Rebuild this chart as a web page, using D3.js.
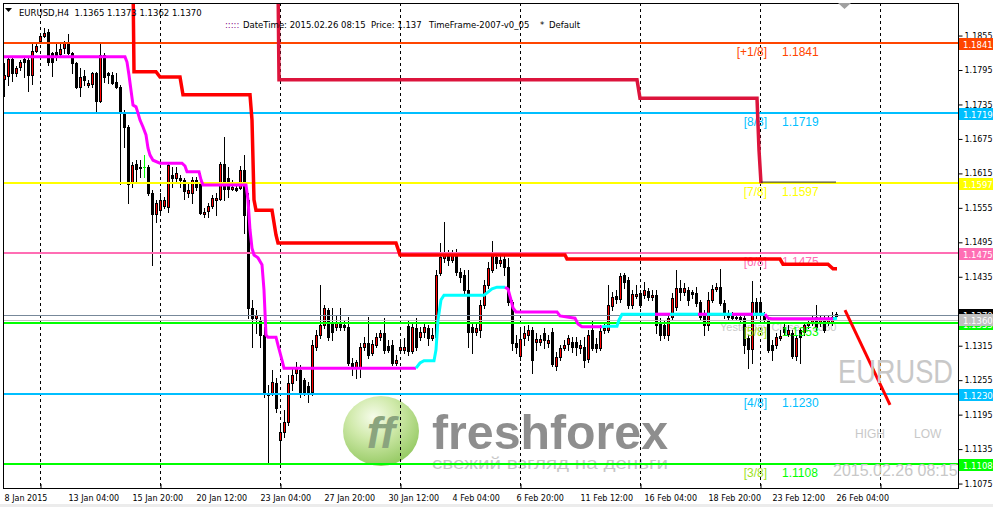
<!DOCTYPE html>
<html>
<head>
<meta charset="utf-8">
<script src="https://cdnjs.cloudflare.com/ajax/libs/d3/7.8.5/d3.min.js"></script>
<style>
body { margin: 0; background: #fff; }
svg { display: block; }
</style>
</head>
<body>
<div id="chart"></div>
<script>
"use strict";
var w = 993;
var h = 507;
var plotL = 3, plotR = 958, plotT = 3, plotB = 488;

// EURUSD H4 candles, [open, high, low, close], oldest first
var candles = [
 [1.1778,1.1806,1.1749,1.1785],[1.1784,1.1815,1.1768,1.1813],[1.1813,1.1815,1.1775,1.1789],[1.1789,1.1801,1.1784,1.1798],
 [1.1799,1.1812,1.1794,1.1808],[1.1813,1.1817,1.1782,1.1808],[1.1812,1.1815,1.1758,1.1785],[1.1785,1.1841,1.1770,1.1827],
 [1.1827,1.1841,1.1825,1.1836],[1.1845,1.1859,1.1841,1.1853],[1.1853,1.1867,1.1852,1.1859],[1.1860,1.1866,1.1803,1.1808],
 [1.1824,1.1825,1.1784,1.1808],[1.1825,1.1841,1.1812,1.1819],[1.1822,1.1841,1.1817,1.1831],[1.1832,1.1845,1.1824,1.1841],
 [1.1841,1.1857,1.1822,1.1824],[1.1824,1.1825,1.1789,1.1806],[1.1806,1.1808,1.1763,1.1765],[1.1765,1.1798,1.1749,1.1782],
 [1.1784,1.1794,1.1768,1.1777],[1.1768,1.1777,1.1765,1.1771],[1.1770,1.1791,1.1765,1.1789],[1.1789,1.1791,1.1723,1.1740],
 [1.1740,1.1841,1.1738,1.1820],[1.1820,1.1824,1.1773,1.1782],[1.1789,1.1791,1.1771,1.1785],[1.1785,1.1791,1.1770,1.1771],
 [1.1773,1.1789,1.1763,1.1765],[1.1765,1.1768,1.1596,1.1719],[1.1719,1.1724,1.1660,1.1695],[1.1695,1.1698,1.1563,1.1596],
 [1.1597,1.1634,1.1590,1.1629],[1.1630,1.1637,1.1597,1.1622],[1.1625,1.1637,1.1608,1.1624],[1.1625,1.1646,1.1608,1.1625],
 [1.1625,1.1629,1.1577,1.1580],[1.1580,1.1585,1.1455,1.1543],[1.1543,1.1568,1.1529,1.1563],[1.1550,1.1580,1.1547,1.1568],
 [1.1557,1.1573,1.1554,1.1568],[1.1556,1.1632,1.1547,1.1629],[1.1611,1.1625,1.1590,1.1606],[1.1606,1.1625,1.1597,1.1615],
 [1.1606,1.1611,1.1590,1.1603],[1.1603,1.1606,1.1570,1.1583],[1.1580,1.1597,1.1573,1.1585],[1.1580,1.1608,1.1563,1.1603],
 [1.1603,1.1608,1.1585,1.1590],[1.1596,1.1615,1.1543,1.1545],[1.1543,1.1554,1.1538,1.1547],[1.1549,1.1563,1.1538,1.1557],
 [1.1557,1.1577,1.1554,1.1571],[1.1568,1.1580,1.1542,1.1571],[1.1570,1.1634,1.1568,1.1630],[1.1630,1.1677,1.1568,1.1587],
 [1.1606,1.1625,1.1573,1.1587],[1.1587,1.1603,1.1585,1.1590],[1.1589,1.1597,1.1583,1.1585],[1.1589,1.1627,1.1587,1.1620],
 [1.1620,1.1646,1.1510,1.1542],[1.1568,1.1580,1.1362,1.1380],[1.1380,1.1394,1.1312,1.1362],[1.1362,1.1376,1.1336,1.1368],
 [1.1359,1.1364,1.1312,1.1333],[1.1333,1.1347,1.1225,1.1232],[1.1232,1.1246,1.1110,1.1228],[1.1232,1.1272,1.1228,1.1251],
 [1.1249,1.1258,1.1199,1.1206],[1.1150,1.1176,1.1103,1.1164],[1.1164,1.1202,1.1155,1.1181],[1.1181,1.1263,1.1176,1.1249],
 [1.1249,1.1275,1.1237,1.1263],[1.1267,1.1286,1.1254,1.1277],[1.1272,1.1281,1.1225,1.1234],[1.1254,1.1258,1.1228,1.1234],
 [1.1244,1.1251,1.1216,1.1234],[1.1234,1.1324,1.1228,1.1315],[1.1312,1.1341,1.1307,1.1333],[1.1333,1.1420,1.1328,1.1350],
 [1.1350,1.1385,1.1345,1.1380],[1.1376,1.1380,1.1324,1.1329],[1.1354,1.1380,1.1324,1.1338],[1.1347,1.1368,1.1341,1.1355],
 [1.1355,1.1380,1.1341,1.1347],[1.1350,1.1359,1.1341,1.1347],[1.1347,1.1364,1.1281,1.1284],[1.1284,1.1293,1.1263,1.1277],
 [1.1277,1.1289,1.1258,1.1286],[1.1275,1.1319,1.1260,1.1312],[1.1312,1.1329,1.1307,1.1319],[1.1319,1.1364,1.1293,1.1298],
 [1.1301,1.1324,1.1298,1.1317],[1.1315,1.1336,1.1312,1.1329],[1.1329,1.1341,1.1324,1.1336],[1.1336,1.1362,1.1301,1.1307],
 [1.1314,1.1324,1.1303,1.1307],[1.1315,1.1324,1.1281,1.1284],[1.1284,1.1298,1.1281,1.1289],[1.1307,1.1324,1.1303,1.1312],
 [1.1307,1.1328,1.1301,1.1312],[1.1348,1.1359,1.1298,1.1305],[1.1305,1.1354,1.1301,1.1347],[1.1345,1.1362,1.1307,1.1312],
 [1.1329,1.1347,1.1324,1.1338],[1.1338,1.1354,1.1329,1.1347],[1.1345,1.1350,1.1315,1.1328],[1.1328,1.1345,1.1324,1.1333],
 [1.1329,1.1446,1.1326,1.1437],[1.1441,1.1493,1.1437,1.1469],[1.1467,1.1529,1.1460,1.1476],[1.1476,1.1481,1.1455,1.1463],
 [1.1463,1.1481,1.1460,1.1472],[1.1472,1.1482,1.1437,1.1442],[1.1442,1.1449,1.1425,1.1434],[1.1437,1.1446,1.1406,1.1411],
 [1.1411,1.1446,1.1312,1.1338],[1.1347,1.1355,1.1301,1.1338],[1.1338,1.1355,1.1333,1.1345],[1.1341,1.1394,1.1329,1.1385],
 [1.1385,1.1429,1.1380,1.1420],[1.1420,1.1460,1.1415,1.1449],[1.1446,1.1496,1.1442,1.1476],[1.1469,1.1477,1.1449,1.1458],
 [1.1458,1.1472,1.1453,1.1463],[1.1465,1.1470,1.1437,1.1451],[1.1451,1.1467,1.1385,1.1390],[1.1390,1.1394,1.1307,1.1319],
 [1.1319,1.1333,1.1301,1.1312],[1.1296,1.1341,1.1289,1.1326],[1.1328,1.1348,1.1315,1.1336],[1.1333,1.1350,1.1324,1.1341],
 [1.1341,1.1347,1.1267,1.1289],[1.1321,1.1336,1.1307,1.1326],[1.1321,1.1333,1.1315,1.1326],[1.1336,1.1345,1.1310,1.1324],
 [1.1319,1.1333,1.1312,1.1324],[1.1338,1.1345,1.1279,1.1282],[1.1279,1.1303,1.1272,1.1294],[1.1294,1.1315,1.1289,1.1310],
 [1.1310,1.1324,1.1307,1.1315],[1.1317,1.1333,1.1307,1.1328],[1.1321,1.1329,1.1303,1.1312],[1.1321,1.1329,1.1298,1.1312],
 [1.1310,1.1324,1.1301,1.1315],[1.1312,1.1329,1.1277,1.1289],[1.1291,1.1341,1.1286,1.1333],[1.1341,1.1359,1.1307,1.1310],
 [1.1317,1.1328,1.1303,1.1310],[1.1310,1.1350,1.1307,1.1340],[1.1341,1.1355,1.1336,1.1345],[1.1341,1.1420,1.1338,1.1385],
 [1.1383,1.1408,1.1376,1.1399],[1.1401,1.1411,1.1388,1.1395],[1.1395,1.1441,1.1390,1.1435],[1.1437,1.1441,1.1415,1.1425],
 [1.1429,1.1434,1.1380,1.1385],[1.1385,1.1411,1.1380,1.1404],[1.1401,1.1420,1.1397,1.1404],[1.1406,1.1411,1.1382,1.1385],
 [1.1402,1.1425,1.1397,1.1411],[1.1409,1.1415,1.1394,1.1399],[1.1399,1.1411,1.1394,1.1402],[1.1402,1.1411,1.1336,1.1350],
 [1.1354,1.1362,1.1324,1.1333],[1.1350,1.1359,1.1328,1.1333],[1.1333,1.1368,1.1324,1.1362],[1.1364,1.1406,1.1359,1.1397],
 [1.1382,1.1446,1.1376,1.1415],[1.1415,1.1429,1.1394,1.1408],[1.1408,1.1423,1.1402,1.1415],[1.1411,1.1416,1.1385,1.1394],
 [1.1408,1.1411,1.1397,1.1404],[1.1406,1.1416,1.1383,1.1388],[1.1390,1.1394,1.1359,1.1364],[1.1368,1.1376,1.1333,1.1350],
 [1.1350,1.1408,1.1341,1.1394],[1.1394,1.1420,1.1390,1.1413],[1.1413,1.1423,1.1409,1.1416],[1.1416,1.1448,1.1385,1.1388],
 [1.1388,1.1394,1.1362,1.1373],[1.1368,1.1376,1.1359,1.1364],[1.1366,1.1373,1.1359,1.1362],[1.1362,1.1371,1.1359,1.1364],
 [1.1364,1.1371,1.1354,1.1359],[1.1362,1.1368,1.1301,1.1315],[1.1328,1.1333,1.1275,1.1308],[1.1308,1.1427,1.1284,1.1390],
 [1.1390,1.1397,1.1362,1.1373],[1.1390,1.1397,1.1359,1.1368],[1.1368,1.1373,1.1355,1.1359],[1.1359,1.1362,1.1303,1.1307],
 [1.1315,1.1324,1.1289,1.1307],[1.1315,1.1336,1.1310,1.1329],[1.1328,1.1341,1.1324,1.1331],[1.1347,1.1354,1.1333,1.1338],
 [1.1334,1.1350,1.1331,1.1341],[1.1336,1.1341,1.1293,1.1296],[1.1296,1.1333,1.1289,1.1328],[1.1341,1.1345,1.1284,1.1329],
 [1.1338,1.1355,1.1333,1.1350],[1.1350,1.1362,1.1345,1.1355],[1.1355,1.1368,1.1350,1.1359],[1.1364,1.1385,1.1341,1.1347],
 [1.1354,1.1368,1.1348,1.1362],[1.1359,1.1366,1.1338,1.1341],[1.1355,1.1368,1.1350,1.1362],[1.1355,1.1373,1.1350,1.1364],
 [1.1365,1.1373,1.1362,1.1370]
];

// time axis labels, one every 16 bars
var timeLabels = ["8 Jan 2015", "13 Jan 04:00", "15 Jan 20:00", "20 Jan 12:00", "23 Jan 04:00", "27 Jan 20:00",
  "30 Jan 12:00", "4 Feb 04:00", "6 Feb 20:00", "11 Feb 12:00", "16 Feb 04:00", "18 Feb 20:00",
  "23 Feb 12:00", "26 Feb 04:00"];
var gridBars = [9, 39, 69, 99, 129, 159, 189, 219];
var priceTicks = [1.1855, 1.1795, 1.1735, 1.1675, 1.1615, 1.1555, 1.1495, 1.1435, 1.1315,
  1.1255, 1.1195, 1.1135, 1.1075];

// Murrey math levels
var mmNames  = ["[+1/8]", "[8/8]", "[7/8]", "[6/8]", "[5/8]", "[4/8]", "[3/8]"];
var mmLevels = [1.1841, 1.1719, 1.1597, 1.1475, 1.1353, 1.1230, 1.1108];
var mmColors = ["#ff4500", "#00bfff", "#ffff00", "#ff6eb4", "#00ff00", "#00bfff", "#00ff00"];

var bidPrice = 1.1370;
var yesterdayClose = 1.1360;

// stepped stop lines [bar, price]
var redStop = [[32.25,1.1951],[32.5,1.1791],[38,1.1791],[39,1.1782],[44,1.1782],[44.75,1.1751],[61.5,1.1751],
  [62,1.1707],[62.5,1.1568],[63,1.1550],[67,1.1550],[68,1.1507],[68.5,1.1493],[98,1.1493],[99,1.1472],
  [140.25,1.1472],[140.75,1.1465],[194,1.1465],[194.75,1.1456],[206,1.1456],[207.25,1.1448],[208.25,1.1448]];
var crimsonStop = [[68.5,1.1951],[68.75,1.1777],[158.25,1.1777],[159,1.1745],[188.25,1.1745],[188.75,1.1655],[189.25,1.1597]];
var crimsonTail = [[189.25,1.1599],[208,1.1599]];

// trend line [bar, price, up] - up=1 draws aqua, 0 magenta
var trendLine = [[-0.25,1.1817,0],[30.25,1.1817,0],[30.75,1.1808,0],[31.25,1.1785,0],[31.75,1.1759,0],[32.25,1.1733,0],
  [33,1.1730,0],[33.5,1.1719,0],[34,1.1707,0],[34.75,1.1695,0],[35.5,1.1681,0],[36,1.1658,0],[36.5,1.1646,0],
  [37.25,1.1637,0],[39,1.1632,0],[44.5,1.1632,0],[45.25,1.1627,0],[45.75,1.1617,0],[48.75,1.1617,0],[49.25,1.1603,0],
  [49.75,1.1594,0],[60.5,1.1594,0],[61,1.1568,0],[61.5,1.1516,0],[62,1.1484,0],[62.5,1.1472,0],[63.5,1.1467,0],
  [64.5,1.1455,0],[65,1.1411,0],[65.5,1.1333,0],[66,1.1329,0],[68,1.1329,0],[68.5,1.1315,0],[69.5,1.1289,0],
  [70,1.1275,0],[103,1.1275,1],[104,1.1284,1],[105,1.1288,1],[107.5,1.1288,1],[108,1.1307,1],[108.5,1.1359,1],
  [109.25,1.1394,1],[110,1.1402,1],[120,1.1402,1],[120.75,1.1406,1],[122,1.1413,1],[123.25,1.1416,1],
  [125.25,1.1416,0],[126,1.1413,0],[126.75,1.1394,0],[127.25,1.1380,0],[128,1.1373,0],[138.25,1.1373,0],
  [139,1.1366,0],[142.75,1.1362,0],[143.5,1.1352,0],[144.5,1.1347,0],[149.5,1.1347,1],[150.5,1.1348,1],
  [153.25,1.1348,1],[153.75,1.1359,1],[154.5,1.1369,1],[162.75,1.1369,0],[166.5,1.1369,1],[173.5,1.1369,0],
  [175.75,1.1369,1],[182,1.1369,0],[187.25,1.1369,1],[190.25,1.1369,0],[191,1.1362,0],[192,1.1361,0],
  [207.25,1.1361,1],[208.25,1.1362,1]];

var projection = [[210.25, 1.1376], [221.5, 1.1211]];

function init() {
    draw();
}
window.onload = init;

function draw() {
    var x = d3.scaleLinear().domain([0, 238.5]).range([4, 958]);
    var y = d3.scaleLinear().domain([1.10664, 1.1916]).range([488, 0]);
    var px = function(i){ return Math.round(x(i)); };
    var py = function(p){ return Math.round(y(p)); };

    var svg = d3.select("#chart").append("svg")
        .attr("width", w).attr("height", h)
        .style("font-family", "'DejaVu Sans', Tahoma, sans-serif");

    var defs = svg.append("defs");
    defs.append("clipPath").attr("id", "plotClip")
        .append("rect").attr("x", plotL).attr("y", plotT)
        .attr("width", plotR - plotL).attr("height", plotB - plotT);
    var grad = defs.append("radialGradient").attr("id", "blob")
        .attr("cx", "40%").attr("cy", "30%").attr("r", "70%");
    grad.append("stop").attr("offset", "0%").attr("stop-color", "#f4fbe6");
    grad.append("stop").attr("offset", "45%").attr("stop-color", "#c8e69c");
    grad.append("stop").attr("offset", "100%").attr("stop-color", "#86c24c");

    svg.append("rect").attr("width", w).attr("height", h).attr("fill", "#fff");
    svg.append("rect").attr("x", 0).attr("y", 504).attr("width", w).attr("height", 3).attr("fill", "#ececec");

    var plot = svg.append("g").attr("clip-path", "url(#plotClip)");

    // watermark
    var wm = plot.append("g");
    wm.append("ellipse").attr("cx", 381).attr("cy", 431).attr("rx", 38).attr("ry", 35)
        .attr("fill", "url(#blob)").attr("opacity", 0.85);
    wm.append("text").attr("x", 381).attr("y", 448).attr("text-anchor", "middle")
        .style("font-family", "'Liberation Sans', Arial, sans-serif")
        .style("font-size", "44px").style("font-weight", "bold").style("font-style", "italic")
        .attr("fill", "#8aa47e").text("ff");
    wm.append("text").attr("x", 432).attr("y", 449)
        .style("font-family", "'Liberation Sans', Arial, sans-serif")
        .style("font-size", "48px").style("font-weight", "bold")
        .attr("textLength", 236).attr("lengthAdjust", "spacingAndGlyphs")
        .attr("fill", "#8e8e8e").text("freshforex");
    wm.append("text").attr("x", 432).attr("y", 469)
        .style("font-family", "'Liberation Sans', Arial, sans-serif")
        .style("font-size", "17px")
        .attr("textLength", 236).attr("lengthAdjust", "spacingAndGlyphs")
        .attr("fill", "#c6c6c6").text("свежий взгляд на деньги");

    // dashed grid
    plot.append("g").selectAll("line").data(gridBars).enter().append("line")
        .attr("x1", function(d){ return px(d) + 0.5; }).attr("x2", function(d){ return px(d) + 0.5; })
        .attr("y1", plotT).attr("y2", plotB)
        .attr("stroke", "#000").attr("stroke-dasharray", "3,3");

    plot.append("text").attr("x", 720).attr("y", py(yesterdayClose) + 12)
        .style("font-family", "'Liberation Sans', Arial, sans-serif").style("font-size", "11px")
        .attr("fill", "#c8c8c8").text("Yesterday Close " + yesterdayClose.toFixed(4));

    // candles
    var cg = plot.append("g").selectAll("g").data(candles).enter().append("g");
    cg.append("rect")
        .attr("x", function(d, i){ return px(i); })
        .attr("y", function(d){ return py(d[1]); })
        .attr("width", 1)
        .attr("height", function(d){ return py(d[2]) - py(d[1]) + 1; })
        .attr("fill", function(d){ return d[0] === d[3] ? "#00ff00" : "#000"; });
    cg.append("rect")
        .attr("x", function(d, i){ return px(i) - 1; })
        .attr("y", function(d){ return py(Math.max(d[0], d[3])); })
        .attr("width", 3)
        .attr("height", function(d){ return Math.max(1, py(Math.min(d[0], d[3])) - py(Math.max(d[0], d[3])) + 1); })
        .attr("fill", function(d){ return d[0] === d[3] ? "#00ff00" : "#000"; });
    cg.filter(function(d){ return d[3] > d[0] && py(d[0]) - py(d[3]) > 1; })
        .append("rect")
        .attr("x", function(d){ return px(candles.indexOf(d)); })
        .attr("y", function(d){ return py(d[3]) + 1; })
        .attr("width", 1)
        .attr("height", function(d){ return py(d[0]) - py(d[3]) - 1; })
        .attr("fill", "#ff0000");

    // Murrey math lines and labels
    var mm = plot.append("g").selectAll("g").data(mmLevels).enter().append("g");
    mm.append("line")
        .attr("x1", plotL).attr("x2", plotR)
        .attr("y1", function(d){ return py(d); }).attr("y2", function(d){ return py(d); })
        .attr("stroke", function(d, i){ return mmColors[i]; }).attr("stroke-width", 2);
    mm.append("text").attr("x", 767).attr("y", function(d){ return py(d) + 13; })
        .attr("text-anchor", "end")
        .style("font-family", "'Liberation Sans', Arial, sans-serif").style("font-size", "12px")
        .attr("fill", function(d, i){ return mmColors[i] === "#00ff00" ? "#9ee21c" : mmColors[i]; })
        .text(function(d, i){ return mmNames[i]; });
    mm.append("text").attr("x", 782).attr("y", function(d){ return py(d) + 13; })
        .style("font-family", "'Liberation Sans', Arial, sans-serif").style("font-size", "12px")
        .attr("fill", function(d, i){ return mmColors[i]; })
        .text(function(d){ return d.toFixed(4); });

    // bid and yesterday close
    plot.append("line").attr("x1", plotL).attr("x2", plotR)
        .attr("y1", py(bidPrice) + 1.5).attr("y2", py(bidPrice) + 1.5)
        .attr("stroke", "#778899");
    plot.append("line").attr("x1", plotL).attr("x2", plotR)
        .attr("y1", py(yesterdayClose) + 1.5).attr("y2", py(yesterdayClose) + 1.5)
        .attr("stroke", "#c0c0c0");

    var line = d3.line().x(function(d){ return x(d[0]); }).y(function(d){ return y(d[1]); });

    plot.append("path").datum(crimsonStop).attr("d", line)
        .attr("fill", "none").attr("stroke", "#dc143c").attr("stroke-width", 3.5);
    plot.append("path").datum(crimsonTail).attr("d", line)
        .attr("fill", "none").attr("stroke", "#303030").attr("stroke-width", 1);
    plot.append("path").datum(redStop).attr("d", line)
        .attr("fill", "none").attr("stroke", "#ff0000").attr("stroke-width", 3.5);

    // trend line split by colour
    var segs = [];
    trendLine.forEach(function(p, i){
        if (i === trendLine.length - 1) return;
        if (!segs.length || segs[segs.length - 1].up !== p[2]) segs.push({ up: p[2], pts: [p] });
        segs[segs.length - 1].pts.push(trendLine[i + 1]);
    });
    plot.append("g").selectAll("path").data(segs).enter().append("path")
        .attr("d", function(d){ return line(d.pts); })
        .attr("fill", "none")
        .attr("stroke", function(d){ return d.up ? "#00ffff" : "#ff00ff"; })
        .attr("stroke-width", 3);

    plot.append("path").datum(projection).attr("d", line)
        .attr("fill", "none").attr("stroke", "#ff0000").attr("stroke-width", 3);

    // chart objects text
    plot.append("text").attr("x", 838).attr("y", 383)
        .style("font-family", "'Liberation Sans', Arial, sans-serif").style("font-size", "33px")
        .attr("textLength", 115).attr("lengthAdjust", "spacingAndGlyphs")
        .attr("fill", "#c8c8c8").text("EURUSD");
    plot.append("text").attr("x", 855).attr("y", 438)
        .style("font-family", "'Liberation Sans', Arial, sans-serif").style("font-size", "12px")
        .attr("fill", "#c8c8c8").text("HIGH");
    plot.append("text").attr("x", 914).attr("y", 438)
        .style("font-family", "'Liberation Sans', Arial, sans-serif").style("font-size", "12px")
        .attr("fill", "#c8c8c8").text("LOW");
    plot.append("text").attr("x", 833).attr("y", 476)
        .style("font-family", "'Liberation Sans', Arial, sans-serif").style("font-size", "16px")
        .attr("fill", "#c8c8c8").text("2015.02.26 08:15");

    // frame
    svg.append("rect").attr("x", plotL + 0.5).attr("y", plotT + 0.5)
        .attr("width", plotR - plotL).attr("height", plotB - plotT)
        .attr("fill", "none").attr("stroke", "#000");

    // price axis
    var yAxis = d3.axisRight(y).tickValues(priceTicks).tickSize(4).tickPadding(2)
        .tickFormat(d3.format(".4f"));
    var ya = svg.append("g").attr("transform", "translate(" + (plotR + 0.5) + ",0.5)").call(yAxis);
    ya.select(".domain").remove();
    ya.selectAll("text").style("font-size", "8px").style("font-family", "'DejaVu Sans', Tahoma, sans-serif");

    // time axis
    var labelBars = timeLabels.map(function(d, i){ return i * 16; });
    var xAxis = d3.axisBottom(x).tickValues(labelBars).tickSize(0).tickPadding(7)
        .tickFormat(function(d, i){ return timeLabels[i]; });
    var xa = svg.append("g").attr("transform", "translate(0," + plotB + ")").call(xAxis);
    xa.select(".domain").remove();
    xa.selectAll("text").attr("text-anchor", "start")
        .style("font-size", "8px").style("font-family", "'DejaVu Sans', Tahoma, sans-serif");
    var gridAxis = d3.axisBottom(x).tickValues(gridBars).tickSize(-4).tickFormat("");
    var ga = svg.append("g").attr("transform", "translate(0.5," + plotB + ")").call(gridAxis);
    ga.select(".domain").remove();

    // price boxes on the right scale
    var boxes = mmLevels.map(function(d, i){ return { p: d, c: mmColors[i] }; });
    boxes.splice(4, 0, { p: bidPrice, c: "#000" }, { p: yesterdayClose, c: "#c0c0c0" });
    boxes = [boxes[6], boxes[4], boxes[5]].concat(boxes.slice(0, 4)).concat(boxes.slice(7));
    var bx = svg.append("g").selectAll("g").data(boxes).enter().append("g");
    bx.append("rect").attr("x", plotR + 1).attr("y", function(d){ return py(d.p) - 5; })
        .attr("width", w - plotR - 1).attr("height", 12).attr("fill", function(d){ return d.c; });
    bx.append("text").attr("x", plotR + 5).attr("y", function(d){ return py(d.p) + 5; })
        .style("font-size", "8.5px").attr("fill", "#fff")
        .text(function(d){ return d.p.toFixed(4); });

    // header
    svg.append("path").attr("d", "M5,8L12,8L8.5,12Z").attr("fill", "#000");
    svg.append("text").attr("x", 19).attr("y", 16).style("font-size", "8.5px")
        .style("white-space", "pre").attr("fill", "#000")
        .text("EURUSD,H4  1.1365 1.1373 1.1362 1.1370");
    var info = svg.append("text").attr("y", 28).style("font-size", "8.5px").style("white-space", "pre");
    info.append("tspan").attr("x", 225).attr("fill", "#800080").text(":::::");
    info.append("tspan").attr("x", 243).attr("fill", "#000").text("DateTime: 2015.02.26 08:15");
    info.append("tspan").attr("x", 371).attr("fill", "#000").text("Price: 1.137");
    info.append("tspan").attr("x", 429).attr("fill", "#000").text("TimeFrame-2007-v0_05");
    info.append("tspan").attr("x", 540).attr("fill", "#000").text("*");
    info.append("tspan").attr("x", 549).attr("fill", "#000").text("Default");

    svg.append("path").attr("d", "M838,3L851,3L844.5,9Z").attr("fill", "#a0a0a0");
}
</script>
</body>
</html>
